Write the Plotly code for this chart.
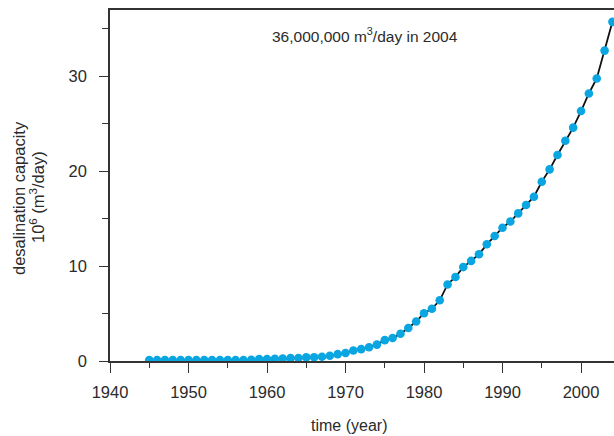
import plotly.graph_objects as go

years = list(range(1945, 2005))
capacity = [
    0.1, 0.1, 0.1, 0.1, 0.1, 0.1, 0.1, 0.1, 0.1, 0.1,   # 1945-1954
    0.1, 0.1, 0.1, 0.12, 0.2, 0.2, 0.22, 0.25, 0.3, 0.32,  # 1955-1964
    0.38, 0.4, 0.45, 0.55, 0.72, 0.85, 1.1, 1.25, 1.45, 1.73,  # 1965-1974
    2.2, 2.42, 2.88, 3.48, 4.16, 5.04, 5.5, 6.4, 8.07, 8.86,  # 1975-1984
    9.9, 10.55, 11.25, 12.3, 13.18, 14.05, 14.7, 15.56, 16.45, 17.32,  # 1985-1994
    18.9, 20.2, 21.72, 23.22, 24.6, 26.35, 28.2, 29.78, 32.72, 35.75,  # 1995-2004
]

x_ticks = [1940, 1950, 1960, 1970, 1980, 1990, 2000]
y_ticks = [0, 10, 20, 30]
annotation_text = "36,000,000 m<sup>3</sup>/day in 2004"
x_title = "time (year)"
y_title_1 = "desalination capacity"
y_title_2 = "10<sup>6</sup> (m<sup>3</sup>/day)"

FONT = "Liberation Sans, Arial, sans-serif"
TXT = "#2b2b2b"
AX = "#333333"

# plot-area geometry in pixels (for placing free text)
L, T, W, H = 110, 10, 504, 351
def px(xp):
    return (xp - L) / W
def py(yp):
    return 1 - (yp - T) / H

fig = go.Figure()
fig.add_trace(go.Scatter(
    x=years, y=capacity, mode="lines",
    line=dict(color="#111111", width=1.8),
    hoverinfo="skip", showlegend=False,
))
fig.add_trace(go.Scatter(
    x=years, y=capacity, mode="markers",
    marker=dict(color="#0aa6e2", size=8.6, line=dict(width=0)),
    showlegend=False,
))

fig.update_layout(
    width=614, height=436,
    margin=dict(l=L, r=0, t=T, b=436 - T - H),
    paper_bgcolor="white", plot_bgcolor="white",
    font=dict(family=FONT, size=16, color=TXT),
    xaxis=dict(
        range=[1940, 2004.2],
        tickmode="array", tickvals=x_ticks, ticktext=[str(v) for v in x_ticks],
        ticks="outside", ticklen=10, tickwidth=1.4, tickcolor=AX,
        minor=dict(tickmode="array", tickvals=[1945, 1955, 1965, 1975, 1985, 1995],
                   ticks="outside", ticklen=5, tickwidth=1.4, tickcolor=AX),
        showline=True, linecolor=AX, linewidth=1.5, mirror=True,
        showgrid=False, zeroline=False,
        ticklabelstandoff=5,
        tickfont=dict(size=16.5),
    ),
    yaxis=dict(
        range=[0, 37],
        tickmode="array", tickvals=y_ticks, ticktext=[str(v) for v in y_ticks],
        ticks="outside", ticklen=9, tickwidth=1.4, tickcolor=AX,
        minor=dict(tickmode="array", tickvals=[5, 15, 25, 35],
                   ticks="outside", ticklen=6, tickwidth=1.4, tickcolor=AX),
        showline=True, linecolor=AX, linewidth=1.5, mirror=False,
        showgrid=False, zeroline=False,
        ticklabelstandoff=9,
        tickfont=dict(size=16.5),
    ),
    annotations=[
        dict(x=px(365), y=py(35), xref="paper", yref="paper", text=annotation_text,
             showarrow=False, xanchor="center", yanchor="middle",
             font=dict(size=15.5, family=FONT, color=TXT)),
        dict(x=px(349), y=py(425), xref="paper", yref="paper",
             text=x_title, showarrow=False, xanchor="center", yanchor="middle",
             font=dict(size=16, family=FONT, color=TXT)),
        dict(x=px(19), y=py(198), xref="paper", yref="paper",
             text=y_title_1, showarrow=False, textangle=-90,
             xanchor="center", yanchor="middle",
             font=dict(size=16.5, family=FONT, color=TXT)),
        dict(x=px(37), y=py(197), xref="paper", yref="paper",
             text=y_title_2, showarrow=False, textangle=-90,
             xanchor="center", yanchor="middle",
             font=dict(size=16.5, family=FONT, color=TXT)),
    ],
)

fig.write_html("out.html")
